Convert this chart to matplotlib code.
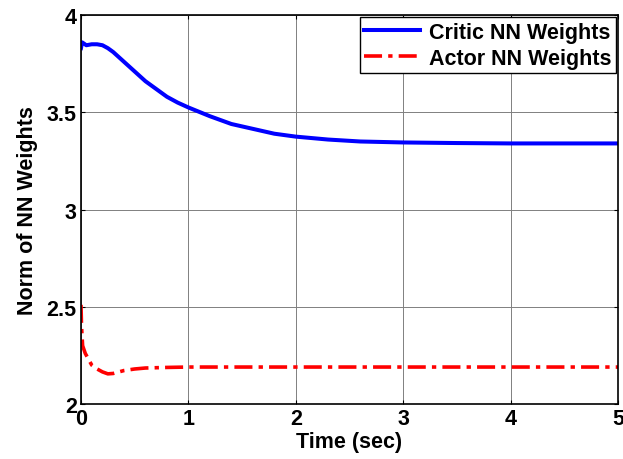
import matplotlib
matplotlib.use("Agg")
import matplotlib.pyplot as plt

plt.rcParams['font.family'] = ['Liberation Sans', 'DejaVu Sans']
plt.rcParams['font.weight'] = 'bold'

# values
critic_t = [0, 0.01, 0.05, 0.1, 0.15, 0.2, 0.25, 0.3, 0.4, 0.5, 0.6, 0.7, 0.8, 0.9,
            1.0, 1.2, 1.4, 1.6, 1.8, 2.0, 2.3, 2.6, 3.0, 3.5, 4.0, 5.0]
critic_w = [3.83, 3.86, 3.845, 3.85, 3.85, 3.845, 3.83, 3.81, 3.76, 3.71, 3.66, 3.62,
            3.58, 3.55, 3.525, 3.48, 3.44, 3.415, 3.39, 3.375, 3.36, 3.35, 3.345,
            3.342, 3.34, 3.34]

actor_t = [0, 0.005, 0.015, 0.04, 0.07, 0.1, 0.15, 0.2, 0.25, 0.3, 0.4, 0.5, 0.6,
           0.8, 1.0, 2.0, 5.0]
actor_w = [2.51, 2.40, 2.30, 2.26, 2.23, 2.20, 2.18, 2.165, 2.155, 2.157, 2.172,
           2.18, 2.185, 2.188, 2.19, 2.19, 2.19]

fs = 15.5

fig = plt.figure(figsize=(6.23, 4.6), dpi=100)
ax = fig.add_axes([0.13, 0.1196, 0.862, 0.8454])

ax.plot(critic_t, critic_w, color='#0000ff', lw=2.9, label='Critic NN Weights')
ax.plot(actor_t, actor_w, color='#ff0000', lw=2.6, ls=(0, (5.0, 1.7, 1.2, 1.7)),
        label='Actor NN Weights')

ax.set_xlim(0, 5)
ax.set_ylim(2, 4)
ax.set_xticks([0, 1, 2, 3, 4, 5])
ax.set_yticks([2, 2.5, 3, 3.5, 4])
ax.set_yticklabels(['2', '2.5', '3', '3.5', '4'])
ax.grid(True, color='#808080', lw=0.7)
ax.tick_params(direction='in', labelsize=fs, length=3, width=0.8, pad=3,
               top=True, right=True)
for s in ax.spines.values():
    s.set_linewidth(1.2)

ax.set_xlabel('Time (sec)', fontsize=fs, fontweight='bold', labelpad=1)
ax.set_ylabel('Norm of NN Weights', fontsize=fs, fontweight='bold', labelpad=6)

leg = ax.legend(loc='upper right', fontsize=fs, fancybox=False, framealpha=1,
                edgecolor='black', borderaxespad=0.1, handlelength=2.6,
                borderpad=0.2, labelspacing=0.25, handletextpad=0.4)
leg.get_frame().set_linewidth(1.0)

fig.savefig('out.png', dpi=100)
